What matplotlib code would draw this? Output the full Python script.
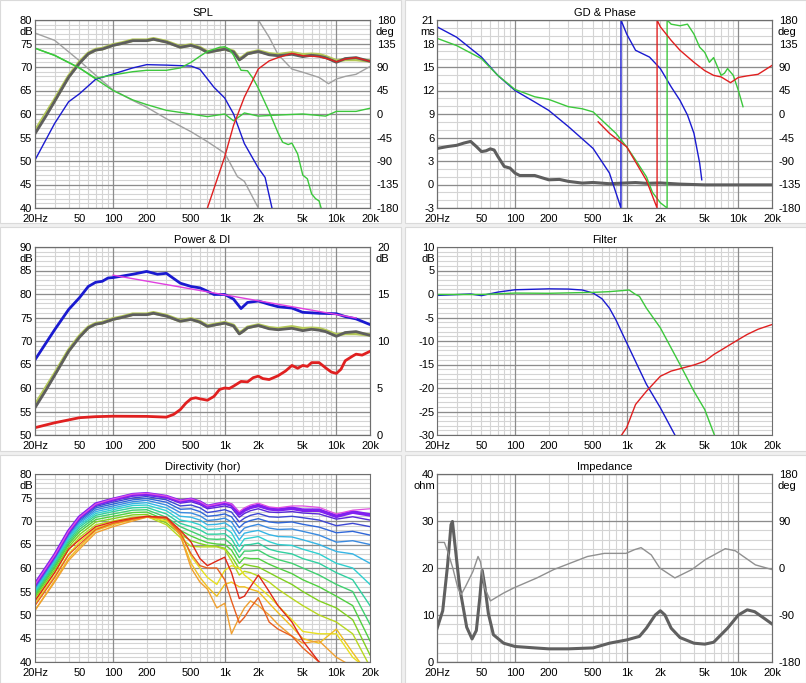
"""
Loudspeaker design overview: SPL, GD & phase, power & DI, filter,
directivity and impedance, recreated with matplotlib.
"""

import numpy as np
import matplotlib.pyplot as plt
from matplotlib.patches import Rectangle
from matplotlib.ticker import NullLocator

plt.rcParams['font.family'] = ['Liberation Sans', 'DejaVu Sans']
plt.rcParams['font.size'] = 8

# ---------------------------------------------------------------- axis labels
FREQ_TICKS = [20, 50, 100, 200, 500, 1000, 2000, 5000, 10000, 20000]
FREQ_LABELS = ['20Hz', '50', '100', '200', '500', '1k', '2k', '5k', '10k', '20k']

# ---------------------------------------------------------------- SPL
SPL_TOTAL_F = [20, 25, 30, 40, 50, 60, 70, 80, 100, 120, 150, 200, 230, 300, 400,
               500, 600, 700, 850, 1000, 1200, 1350, 1450, 1600, 2000, 2500, 3000,
               4000, 5000, 6000, 7000, 8000, 10000, 12000, 15000, 20000]
SPL_TOTAL_DB = [55.8, 59.5, 62.7, 67.8, 70.8, 72.8, 73.6, 73.8, 74.6, 75.0, 75.6,
                75.6, 75.9, 75.3, 74.2, 74.6, 74.0, 73.1, 73.5, 73.8, 73.2, 71.5,
                72.0, 72.8, 73.3, 72.6, 72.4, 72.7, 72.2, 72.5, 72.3, 72.0, 71.0,
                71.8, 72.0, 71.2]
SPL_TOTAL_LIGHT_DB = [56.3, 60.0, 63.0, 68.0, 71.0, 72.9, 73.7, 73.9, 74.7, 75.1,
                      75.7, 75.7, 76.0, 75.4, 74.3, 74.7, 74.1, 73.2, 73.6, 73.9,
                      73.3, 71.7, 72.1, 72.9, 73.4, 72.8, 72.6, 73.0, 72.6, 72.7,
                      72.6, 72.2, 71.3, 71.6, 71.6, 71.3]

SPL_WOOFER_F = [20, 30, 40, 50, 70, 100, 150, 200, 300, 500, 600, 800, 1000, 1200,
                1500, 2000, 2300, 2650]
SPL_WOOFER_DB = [50.2, 58.0, 62.6, 64.3, 67.4, 68.5, 69.8, 70.5, 70.4, 70.2, 69.5,
                 65.7, 63.4, 60.0, 53.7, 48.5, 46.5, 40.0]

SPL_MID_F = [20, 30, 50, 70, 100, 150, 200, 300, 400, 500, 600, 700, 900, 1000,
             1100, 1200, 1300, 1400, 1600, 1800, 2000, 2500, 3000, 3300, 3700, 4000,
             4500, 5000, 5500, 6000, 6500, 7000, 7300]
SPL_MID_DB = [74.0, 72.5, 69.8, 67.6, 68.3, 69.0, 69.3, 69.3, 69.8, 71.0, 72.3,
              73.3, 74.2, 74.3, 73.8, 72.5, 70.8, 69.3, 69.2, 67.5, 65.5, 60.5,
              56.0, 54.0, 53.5, 53.8, 51.5, 47.0, 46.2, 43.0, 42.0, 41.5, 40.0]

SPL_TWEETER_F = [700, 1000, 1200, 1500, 2000, 2500, 3000, 4000, 5000, 7000, 9000,
                 10000, 12000, 15000, 20000]
SPL_TWEETER_DB = [40.0, 50.9, 57.6, 63.6, 69.6, 71.3, 72.0, 72.9, 72.4, 72.2, 71.5,
                  71.1, 71.7, 72.0, 71.2]

SPL_PHASE_GREEN_F = [20, 30, 50, 70, 100, 150, 200, 300, 500, 700, 1000, 1200,
                     1500, 2000, 3000, 5000, 8000, 10000, 15000, 20000]
SPL_PHASE_GREEN_DEG = [126, 112, 88, 67, 45, 27, 18, 7, 0, -5, 0, -13, 2, -4, -2,
                       0, -4, 5, 5, 11]

SPL_PHASE_GRAY_F = [20, 30, 50, 70, 100, 150, 200, 300, 500, 700, 1000, 1300, 1500,
                    2000, 2000, 2500, 3000, 4000, 5000, 7000, 8500, 10000, 12000,
                    15000, 20000]
SPL_PHASE_GRAY_DEG = [155, 141, 102, 74, 46, 26, 13, -9, -34, -53, -75, -120, -129,
                      -180, 180, 147, 114, 86, 80, 70, 58, 67, 72, 76, 91]

# ---------------------------------------------------------------- GD & phase
GD_F = [20, 25, 30, 35, 40, 45, 50, 55, 60, 65, 70, 80, 90, 100, 110, 150, 200,
        250, 300, 400, 500, 700, 1000, 1200, 1500, 2000, 3000, 5000, 20000]
GD_MS = [4.6, 4.85, 5.0, 5.3, 5.5, 4.85, 4.2, 4.3, 4.55, 4.4, 3.6, 2.3, 2.1, 1.45,
         1.15, 1.15, 0.6, 0.65, 0.4, 0.18, 0.26, 0.1, 0.2, 0.25, 0.15, 0.2, 0.05,
         -0.05, -0.05]

GDP_BLUE_F = [20, 30, 50, 70, 100, 150, 200, 300, 500, 700, 888, 888, 1000, 1200,
              1400, 1600, 2000, 2500, 3000, 3500, 4000, 4500, 4700]
GDP_BLUE_DEG = [167, 147, 109, 74, 45, 23, 7, -24, -66, -113, -180, 180, 153, 122,
                115, 109, 87, 52, 26, -2, -37, -94, -126]

GDP_GREEN_F = [20, 30, 50, 70, 100, 150, 200, 300, 400, 500, 600, 800, 1000, 1200,
               1500, 1700, 2000, 2300, 2300, 2500, 3000, 3500, 4000, 4500, 5000,
               5500, 6000, 7000, 7500, 8000, 9000, 10000, 11000]
GDP_GREEN_DEG = [145, 131, 106, 74, 47, 33, 28, 14, 10, 4, -12, -37, -63, -88,
                 -120, -150, -170, -180, 180, 172, 169, 172, 153, 128, 118, 99, 108,
                 74, 78, 87, 74, 45, 14]

GDP_RED_F = [555, 700, 1000, 1500, 1870, 1870, 2000, 2500, 3000, 4000, 5000, 6000,
             7000, 8500, 10000, 12000, 15000, 20000]
GDP_RED_DEG = [-15, -37, -63, -127, -180, 180, 167, 141, 122, 99, 83, 74, 71, 60,
               70, 73, 76, 93]

# ---------------------------------------------------------------- power & DI
PW_F = [20, 30, 40, 50, 60, 70, 80, 90, 100, 120, 150, 200, 250, 300, 400, 500,
        600, 700, 800, 1000, 1200, 1400, 1600, 2000, 2500, 3000, 4000, 5000, 7000,
        10000, 12000, 15000, 20000]
PW_DB = [66.0, 72.4, 76.7, 79.2, 81.6, 82.5, 82.7, 83.4, 83.5, 83.8, 84.2, 84.8,
         84.2, 84.4, 82.3, 81.6, 81.3, 80.6, 79.9, 79.9, 78.9, 76.9, 78.2, 78.5,
         77.8, 77.3, 77.0, 76.1, 75.9, 75.8, 75.2, 74.7, 73.5]

TARGET_F = [100, 15000]
TARGET_DB = [84.0, 74.9]

DI_F = [20, 30, 50, 70, 100, 200, 300, 350, 400, 450, 500, 550, 600, 700, 800, 900,
        1000, 1100, 1200, 1400, 1600, 1800, 2000, 2200, 2500, 3000, 3500, 4000,
        4500, 5000, 5500, 6000, 7000, 8000, 9000, 10000, 11000, 12000, 14000,
        15000, 17000, 20000]
DI_DB = [0.78, 1.3, 1.84, 1.95, 2.0, 1.98, 1.9, 2.2, 2.7, 3.4, 3.86, 3.96, 3.85,
         3.7, 4.1, 4.85, 5.0, 4.95, 5.2, 5.7, 5.65, 6.1, 6.26, 6.0, 5.9, 6.3, 6.8,
         7.4, 7.1, 7.4, 7.3, 7.7, 7.7, 7.15, 6.7, 6.55, 7.0, 7.9, 8.4, 8.6, 8.5, 8.9]

# ---------------------------------------------------------------- filter
FILT_BLUE_F = [20, 40, 50, 70, 100, 200, 300, 400, 500, 600, 700, 800, 1000, 1500,
               2000, 2700]
FILT_BLUE_DB = [-0.3, 0.0, -0.35, 0.4, 0.9, 1.1, 1.05, 0.85, 0.2, -1.0, -3.0, -5.5,
                -10.4, -19.2, -24.2, -30.0]
FILT_GREEN_F = [20, 50, 100, 200, 500, 700, 1000, 1050, 1200, 1300, 1500, 2000,
                3000, 4000, 5000, 6100]
FILT_GREEN_DB = [-0.1, -0.1, 0.2, 0.15, 0.35, 0.5, 0.8, 0.85, -0.1, -0.5, -3.0,
                 -7.2, -15.0, -20.7, -24.6, -30.0]
FILT_RED_F = [900, 1000, 1200, 1500, 2000, 2500, 3000, 4000, 5000, 6000, 8000,
              10000, 12000, 15000, 20000]
FILT_RED_DB = [-30.0, -28.4, -23.5, -20.7, -17.5, -16.4, -15.9, -15.1, -14.3,
               -12.9, -11.1, -9.7, -8.6, -7.5, -6.5]

# ---------------------------------------------------------------- directivity
DIR_F = [20, 30, 40, 50, 70, 100, 150, 200, 300, 400, 500, 600, 700, 850, 1000,
         1150, 1350, 1500, 1700, 2000, 2500, 3000, 4000, 5000, 7000, 10000, 14000,
         20000]
DIR_ON_AXIS = [56.5, 62.7, 67.8, 70.8, 73.6, 74.6, 75.6, 75.8, 75.2, 74.2, 74.6,
               74.0, 73.1, 73.5, 73.8, 73.4, 71.5, 72.3, 72.9, 73.3, 72.6, 72.4,
               72.7, 72.3, 72.3, 71.0, 71.9, 71.3]
DIR_MAGENTA = [56.5, 62.7, 67.8, 70.8, 73.6, 74.7, 75.7, 75.9, 75.3, 74.3, 74.7,
               74.1, 73.2, 73.6, 74.0, 73.6, 72.0, 72.8, 73.4, 73.8, 73.0, 72.8,
               73.2, 73.2, 72.9, 71.5, 72.3, 72.6]
DIR_OFF_AXIS = [
    [56.3, 62.5, 67.6, 70.6, 73.4, 74.3, 75.3, 75.5, 74.9, 73.8, 74.1, 73.5, 72.6, 72.9, 73.2, 72.8, 70.8, 71.6, 72.2, 72.6, 71.9, 71.8, 72.0, 71.7, 71.5, 70.4, 70.9, 70.2],
    [56.0, 62.3, 67.4, 70.4, 73.1, 74.0, 74.9, 75.2, 74.5, 73.2, 73.4, 72.8, 71.8, 72.1, 72.4, 71.9, 69.8, 70.6, 71.2, 71.6, 70.9, 70.8, 71.0, 70.7, 70.2, 69.0, 69.5, 68.8],
    [55.8, 62.1, 67.1, 70.1, 72.8, 73.6, 74.5, 74.8, 74.0, 72.5, 72.6, 72.0, 71.0, 71.2, 71.5, 70.9, 68.6, 69.6, 70.1, 70.5, 69.8, 69.6, 69.8, 69.3, 68.7, 67.5, 67.8, 67.0],
    [55.5, 61.8, 66.8, 69.8, 72.4, 73.2, 74.1, 74.4, 73.4, 71.8, 71.7, 71.1, 70.1, 70.3, 70.6, 69.8, 67.3, 68.5, 68.9, 69.3, 68.5, 68.2, 68.3, 67.8, 67.0, 65.5, 65.8, 65.0],
    [55.2, 61.5, 66.5, 69.5, 72.0, 72.8, 73.7, 73.9, 72.8, 71.0, 70.8, 70.2, 69.2, 69.3, 69.6, 68.7, 66.0, 67.4, 67.7, 68.0, 67.1, 66.7, 66.6, 66.0, 65.0, 63.5, 63.0, 61.0],
    [54.9, 61.2, 66.2, 69.1, 71.6, 72.4, 73.3, 73.4, 72.2, 70.2, 69.8, 69.2, 68.2, 68.3, 68.5, 67.5, 64.6, 66.2, 66.4, 66.7, 65.6, 65.0, 64.8, 64.0, 63.0, 61.0, 60.0, 56.5],
    [54.6, 60.9, 65.8, 68.7, 71.2, 72.0, 72.8, 72.9, 71.5, 69.5, 68.8, 68.1, 67.2, 67.2, 67.3, 66.2, 63.4, 64.9, 65.0, 65.3, 64.0, 63.5, 63.0, 62.0, 61.0, 59.0, 57.5, 52.0],
    [54.3, 60.5, 65.4, 68.2, 70.8, 71.5, 72.3, 72.4, 70.8, 68.8, 67.8, 67.0, 66.2, 66.1, 66.2, 65.0, 62.2, 63.6, 63.6, 63.8, 62.5, 61.8, 61.0, 60.0, 58.5, 56.5, 55.0, 48.0],
    [54.0, 60.1, 65.0, 67.7, 70.3, 71.0, 71.8, 71.9, 70.2, 68.0, 66.8, 66.0, 65.4, 65.1, 65.0, 63.8, 61.0, 62.2, 62.0, 62.0, 60.8, 60.0, 58.8, 57.5, 56.0, 54.0, 52.0, 44.5],
    [53.6, 59.6, 64.5, 67.1, 69.8, 70.5, 71.3, 71.4, 69.6, 67.2, 65.8, 65.2, 64.8, 64.6, 64.2, 62.5, 59.8, 60.8, 60.5, 60.2, 59.0, 58.0, 56.5, 55.0, 53.0, 51.5, 49.0, 41.5],
    [53.2, 59.1, 63.9, 66.5, 69.2, 70.0, 70.8, 71.0, 69.2, 66.5, 64.6, 64.5, 64.5, 64.5, 64.0, 61.5, 58.5, 59.3, 59.0, 58.3, 57.0, 55.5, 53.5, 52.0, 50.0, 48.5, 46.0, 39.0],
    [52.5, 58.3, 63.0, 65.5, 68.5, 69.5, 70.6, 70.9, 70.0, 68.0, 62.5, 60.0, 58.0, 56.5, 59.5, 60.5, 60.0, 58.5, 57.5, 56.0, 54.0, 52.0, 49.0, 46.5, 46.0, 46.0, 41.0, 38.0],
    [51.0, 57.3, 62.0, 64.5, 68.0, 69.2, 70.3, 70.8, 70.5, 67.0, 61.0, 58.0, 56.0, 54.0, 56.5, 57.0, 56.0, 56.0, 55.5, 55.0, 52.5, 50.5, 47.5, 45.0, 44.0, 47.0, 42.0, 37.0],
    [51.0, 57.0, 61.6, 64.0, 67.5, 68.8, 70.0, 70.8, 70.5, 67.0, 60.0, 57.0, 55.5, 51.5, 52.5, 46.0, 49.5, 51.5, 53.0, 52.0, 50.0, 48.0, 45.5, 44.0, 44.5, 41.0, 39.0, 36.0],
    [52.0, 58.0, 62.8, 65.0, 68.2, 69.5, 70.4, 70.9, 70.6, 67.5, 63.0, 60.5, 60.0, 60.0, 57.5, 53.0, 48.3, 49.5, 51.5, 53.7, 48.5, 47.0, 45.5, 43.0, 40.0, 38.0, 36.0, 35.0],
    [53.0, 59.0, 64.0, 66.0, 68.8, 69.8, 70.6, 71.0, 70.8, 68.0, 65.5, 62.0, 60.5, 61.5, 62.3, 59.0, 53.5, 54.0, 56.0, 58.5, 55.0, 52.0, 48.5, 44.5, 40.0, 37.0, 35.0, 34.0],
]
DIR_COLORS = ['#5a28d8', '#3c46d2', '#2f66d8', '#3a8ae0', '#35b5e5', '#30d0d0',
              '#30d0a0', '#40d070', '#50d040', '#80d020', '#b8d820', '#e8e020',
              '#f0c020', '#f0a030', '#e86020', '#e02818']

# ---------------------------------------------------------------- impedance
IMP_F = [20, 22.5, 24.9, 26.7, 27.5, 28.7, 31.9, 36.9, 41.2, 45, 48.4, 50.8, 53.7,
         57.7, 64, 79, 100, 150, 200, 300, 500, 700, 1000, 1300, 1500, 1800, 2000,
         2200, 2500, 3000, 4000, 5000, 6000, 8000, 10000, 12000, 14000, 17000, 20000]
IMP_OHM = [7.1, 10.9, 20.7, 29.2, 29.9, 25.8, 15.9, 7.4, 4.9, 6.7, 13.8, 19.5, 16.0,
           10.3, 5.8, 4.0, 3.3, 3.0, 2.8, 2.8, 3.0, 4.0, 4.7, 5.45, 7.2, 10.0, 10.9,
           10.0, 7.2, 5.2, 4.0, 3.8, 4.2, 7.2, 10.0, 11.1, 10.7, 9.3, 8.1]
IMP_PH_F = [20, 23.3, 24.9, 27.7, 30.7, 32.9, 36.1, 41.9, 46.6, 49, 53.4, 60.2,
            78.9, 97.7, 157, 222, 445, 630, 986, 1170, 1345, 1660, 1975, 2700, 3830,
            5050, 7630, 9380, 14200, 20000]
IMP_PH_DEG = [49, 49, 32, 0, -38, -51, -35, -7, 22, 12, -38, -63, -48, -38, -19,
              -3, 22, 28, 28, 35, 39, 25, 0, -19, -3, 16, 37, 33, 6, -3]

# ---------------------------------------------------------------- styling
MINOR_C = '#d4d4d4'
MAJOR_C = '#8c8c8c'
FRAME_C = '#6e6e6e'
BLUE = '#1a1ad0'
GREEN = '#3cc83c'
RED = '#e02020'
GRAY_THIN = '#a0a0a0'
DARK = '#5e5e5e'
HALO = '#b4c858'
FS = 8

MINOR_FREQS = [m * d for d in (10, 100, 1000) for m in range(2, 10)]
MAJOR_FREQS = [100, 1000, 10000]


def style_panel(ax, title, ylim, major_step, minor_step, unit):
    ax.set_xscale('log')
    ax.set_xlim(20, 20000)
    ax.set_ylim(*ylim)
    for f in MINOR_FREQS:
        ax.axvline(f, color=MINOR_C, lw=0.8, zorder=0)
    for y in np.arange(ylim[0], ylim[1] + 1e-9, minor_step):
        ax.axhline(y, color=MINOR_C, lw=0.8, zorder=0)
    for f in MAJOR_FREQS:
        ax.axvline(f, color=MAJOR_C, lw=0.9, zorder=0.5)
    majors = np.arange(ylim[0], ylim[1] + 1e-9, major_step)
    for y in majors:
        ax.axhline(y, color=MAJOR_C, lw=0.9, zorder=0.5)
    ax.set_yticks(majors)
    ax.set_yticklabels([f'{v:g}' for v in majors])
    ax.set_xticks(FREQ_TICKS)
    ax.set_xticklabels(FREQ_LABELS)
    ax.xaxis.set_minor_locator(NullLocator())
    ax.tick_params(length=0, labelsize=FS)
    ax.tick_params(axis='y', pad=2)
    ax.tick_params(axis='x', pad=4)
    for s in ax.spines.values():
        s.set_color(FRAME_C)
    ax.set_title(title, fontsize=FS, pad=3)
    ax.annotate(unit, xy=(0, 1), xycoords='axes fraction', xytext=(-2, -12),
                textcoords='offset pixels', ha='right', va='center', fontsize=FS)


def right_axis(ax, ylim, step, unit):
    ax2 = ax.twinx()
    ax2.set_ylim(*ylim)
    ticks = np.arange(ylim[0], ylim[1] + 1e-9, step)
    ax2.set_yticks(ticks)
    ax2.set_yticklabels([f'{v:g}' for v in ticks])
    ax2.tick_params(length=0, pad=5, labelsize=FS)
    for s in ax2.spines.values():
        s.set_color(FRAME_C)
    ax2.annotate(unit, xy=(1, 1), xycoords='axes fraction', xytext=(5, -12),
                 textcoords='offset pixels', ha='left', va='center', fontsize=FS)
    return ax2


fig = plt.figure(figsize=(8.06, 6.83), dpi=100)
fig.patch.set_facecolor('#f0f0f0')

W, H = 806.0, 683.0
for (x0, y0, x1, y1) in [(0, 0, 401, 223), (405, 0, 806, 223),
                         (0, 227, 401, 451), (405, 227, 806, 451),
                         (0, 455, 401, 683), (405, 455, 806, 683)]:
    fig.patches.append(Rectangle((x0 / W, 1 - y1 / H), (x1 - x0) / W, (y1 - y0) / H,
                                 transform=fig.transFigure, facecolor='white',
                                 edgecolor='#dadada', lw=0.8, zorder=-10))

LEFT_X, RIGHT_X = 35 / W, 437 / W
PW_W = 335 / W
ROW_Y = [1 - 208 / H, 1 - 435 / H, 1 - 662 / H]
PH = 188 / H

ax_spl = fig.add_axes([LEFT_X, ROW_Y[0], PW_W, PH])
ax_gd = fig.add_axes([RIGHT_X, ROW_Y[0], PW_W, PH])
ax_pw = fig.add_axes([LEFT_X, ROW_Y[1], PW_W, PH])
ax_fl = fig.add_axes([RIGHT_X, ROW_Y[1], PW_W, PH])
ax_dir = fig.add_axes([LEFT_X, ROW_Y[2], PW_W, PH])
ax_imp = fig.add_axes([RIGHT_X, ROW_Y[2], PW_W, PH])

# SPL
style_panel(ax_spl, 'SPL', (40, 80), 5, 1, 'dB')
spl_ph = right_axis(ax_spl, (-180, 180), 45, 'deg')
spl_ph.plot(SPL_PHASE_GRAY_F, SPL_PHASE_GRAY_DEG, color=GRAY_THIN, lw=1.0)
spl_ph.plot(SPL_PHASE_GREEN_F, SPL_PHASE_GREEN_DEG, color=GREEN, lw=1.0)
spl_ph.plot(SPL_TOTAL_F, SPL_TOTAL_LIGHT_DB, color=HALO, lw=2.6,
            transform=ax_spl.transData)
spl_ph.plot(SPL_TOTAL_F, SPL_TOTAL_DB, color=DARK, lw=2.0, transform=ax_spl.transData)
spl_ph.plot(SPL_WOOFER_F, SPL_WOOFER_DB, color=BLUE, lw=1.0, transform=ax_spl.transData)
spl_ph.plot(SPL_MID_F, SPL_MID_DB, color=GREEN, lw=1.0, transform=ax_spl.transData)
spl_ph.plot(SPL_TWEETER_F, SPL_TWEETER_DB, color=RED, lw=1.0,
            transform=ax_spl.transData)

# GD & Phase
style_panel(ax_gd, 'GD & Phase', (-3, 21), 3, 1, 'ms')
gd_ph = right_axis(ax_gd, (-180, 180), 45, 'deg')
ax_gd.plot(GD_F, GD_MS, color=DARK, lw=2.2)
gd_ph.plot(GDP_BLUE_F, GDP_BLUE_DEG, color=BLUE, lw=1.0)
gd_ph.plot(GDP_GREEN_F, GDP_GREEN_DEG, color=GREEN, lw=1.0)
gd_ph.plot(GDP_RED_F, GDP_RED_DEG, color=RED, lw=1.0)

# Power & DI
style_panel(ax_pw, 'Power & DI', (50, 90), 5, 1, 'dB')
di_ax = right_axis(ax_pw, (0, 20), 5, 'dB')
ax_pw.plot(SPL_TOTAL_F, SPL_TOTAL_LIGHT_DB, color=HALO, lw=2.6)
ax_pw.plot(SPL_TOTAL_F, SPL_TOTAL_DB, color=DARK, lw=2.0)
ax_pw.plot(PW_F, PW_DB, color=BLUE, lw=2.0)
ax_pw.plot(TARGET_F, TARGET_DB, color='#e040e0', lw=1.0)
di_ax.plot(DI_F, DI_DB, color=RED, lw=2.0)

# Filter
style_panel(ax_fl, 'Filter', (-30, 10), 5, 1, 'dB')
ax_fl.plot(FILT_BLUE_F, FILT_BLUE_DB, color=BLUE, lw=1.0)
ax_fl.plot(FILT_GREEN_F, FILT_GREEN_DB, color=GREEN, lw=1.0)
ax_fl.plot(FILT_RED_F, FILT_RED_DB, color=RED, lw=1.0)

# Directivity
style_panel(ax_dir, 'Directivity (hor)', (40, 80), 5, 1, 'dB')
for vals, col in zip(DIR_OFF_AXIS, DIR_COLORS):
    ax_dir.plot(DIR_F, vals, color=col, lw=1.0)
ax_dir.plot(DIR_F, DIR_ON_AXIS, color='#8020f0', lw=2.6)
ax_dir.plot(DIR_F, DIR_MAGENTA, color='#e050e0', lw=0.9)

# Impedance
style_panel(ax_imp, 'Impedance', (0, 40), 10, 2, 'ohm')
imp_ph = right_axis(ax_imp, (-180, 180), 90, 'deg')
imp_ph.plot(IMP_PH_F, IMP_PH_DEG, color='#909090', lw=1.0)
ax_imp.plot(IMP_F, IMP_OHM, color='#606060', lw=2.2)

fig.savefig('out.png', dpi=100, facecolor=fig.get_facecolor())
